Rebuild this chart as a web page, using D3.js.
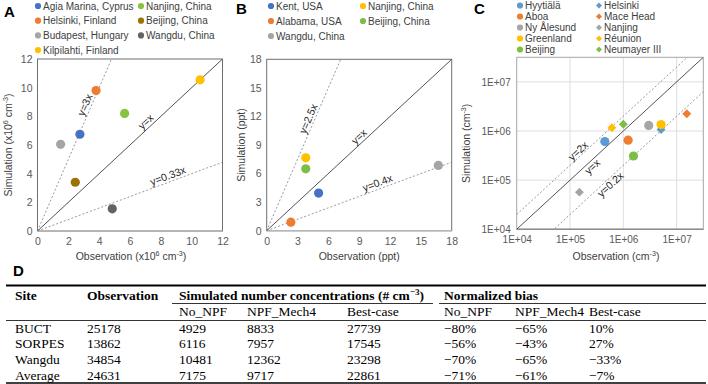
<!DOCTYPE html>
<html>
<head>
<meta charset="utf-8">
<script src="https://cdn.jsdelivr.net/npm/d3@7"></script>
<style>
    body { margin: 0; background: #fff; }
    svg { display: block; font-family: Arial, "Liberation Sans", sans-serif; }
    .tick text { fill: #595959; }
</style>
</head>
<body>
<svg id="chart" width="708" height="384"></svg>
<script>
"use strict"

// ---- panel A: particle number (x10^6 cm-3) ----
const sitesA = ["Agia Marina, Cyprus", "Nanjing, China", "Helsinki, Finland", "Beijing, China",
    "Budapest, Hungary", "Wangdu, China", "Kilpilahti, Finland"];
const obsA = [2.75, 5.65, 3.8, 2.45, 1.5, 4.85, 10.55];
const simA = [6.75, 8.2, 9.8, 3.4, 6.05, 1.55, 10.55];
const colorsA = ["#4472c4", "#86c440", "#ed7d31", "#9a7300", "#a5a5a5", "#636363", "#ffc000"];
const ticksA = [0, 2, 4, 6, 8, 10, 12];
const refSlopesA = [2.5, 1, 0.4];
const refLabelsA = ["y=3x", "y=x", "y=0.33x"];
const refLabelAtA = [3.45, 7.3, 8.6];

// ---- panel B: ppt ----
const sitesB = ["Kent, USA", "Nanjing, China", "Alabama, USA", "Beijing, China", "Wangdu, China"];
const obsB = [5.05, 3.8, 2.35, 3.8, 16.7];
const simB = [3.95, 7.65, 0.9, 6.5, 6.85];
const colorsB = ["#4472c4", "#ffc000", "#ed7d31", "#7dbf46", "#a5a5a5"];
const ticksB = [0, 3, 6, 9, 12, 15, 18];
const refSlopesB = [2.5, 1, 0.4];
const refLabelsB = ["y=2.5x", "y=x", "y=0.4x"];
const refLabelAtB = [4.6, 9.4, 11];

// ---- panel C: cm-3, log axes ----
const sitesC = ["Hyytiälä", "Helsinki", "Aboa", "Mace Head", "Ny Ålesund", "Nanjing",
    "Greenland", "Réunion", "Beijing", "Neumayer III"];
const shapesC = ["circle", "diamond", "circle", "diamond", "circle", "diamond",
    "circle", "diamond", "circle", "diamond"];
const obsC = [4.5e5, 5.1e6, 1.23e6, 1.55e7, 3.0e6, 1.5e5, 5.1e6, 6.1e5, 1.55e6, 1.0e6];
const simC = [6.1e5, 1.07e6, 6.5e5, 2.25e6, 1.3e6, 5.7e4, 1.35e6, 1.17e6, 3.1e5, 1.37e6];
const colorsC = ["#5b9bd5", "#5b9bd5", "#ed7d31", "#ed7d31", "#a5a5a5", "#a5a5a5",
    "#ffc000", "#ffc000", "#7dbf46", "#7dbf46"];
const ticksC = [1e4, 1e5, 1e6, 1e7];
const refSlopesC = [2, 1, 0.2];
const refLabelsC = ["y=2x", "y=x", "y=0.2x"];
const refLabelAtC = [1.65e5, 2.25e5, 4.9e5];

// ---- panel D: table ----
const tableSites = ["BUCT", "SORPES", "Wangdu", "Average"];
const tableObs = [25178, 13862, 34854, 24631];
const simNoNPF = [4929, 6116, 10481, 7175];
const simMech4 = [8833, 7957, 12362, 9717];
const simBest = [27739, 17545, 23298, 22861];
const biasNoNPF = ["−80%", "−56%", "−70%", "−71%"];
const biasMech4 = ["−65%", "−43%", "−65%", "−61%"];
const biasBest = ["10%", "27%", "−33%", "−7%"];
const subHeaders = ["No_NPF", "NPF_Mech4", "Best-case", "No_NPF", "NPF_Mech4", "Best-case"];

let svg = d3.select("#chart");

/* text with superscript parts: parts = [[text, isSup], ...] */
function richText(sel, parts, size) {
    let shift = 0;
    for (let p of parts) {
        let t = sel.append("tspan").text(p[0]);
        let want = p[1] ? -size * 0.38 : 0;
        t.attr("dy", want - shift);
        if (p[1]) t.style("font-size", (size * 0.68) + "px");
        shift = want;
    }
    return sel;
}

function drawMarker(g, shape, x, y, r, color) {
    if (shape === "diamond") {
        g.append("path")
            .attr("d", d3.symbol().type(d3.symbolDiamond2).size(r * r * 2.4)())
            .attr("transform", "translate(" + x + "," + y + ")")
            .style("fill", color);
    } else {
        g.append("circle")
            .attr("cx", x).attr("cy", y).attr("r", r)
            .style("fill", color);
    }
}

function drawPanel(cfg) {
    let g = svg.append("g");
    let x = cfg.x, y = cfg.y;
    let clipId = "clip" + cfg.letter;

    g.append("defs").append("clipPath").attr("id", clipId)
        .append("rect")
        .attr("x", x.range()[0]).attr("y", y.range()[1])
        .attr("width", x.range()[1] - x.range()[0])
        .attr("height", y.range()[0] - y.range()[1]);

    // gridlines (log panel only)
    if (cfg.grid) {
        g.selectAll(".gx").data(cfg.ticks.slice(1)).enter().append("line")
            .attr("x1", d => x(d)).attr("x2", d => x(d))
            .attr("y1", y.range()[0]).attr("y2", y.range()[1])
            .style("stroke", "#dedede");
        g.selectAll(".gy").data(cfg.ticks.slice(1)).enter().append("line")
            .attr("y1", d => y(d)).attr("y2", d => y(d))
            .attr("x1", x.range()[0]).attr("x2", x.range()[1])
            .style("stroke", "#dedede");
    }

    // frame
    g.append("rect")
        .attr("x", x.range()[0]).attr("y", y.range()[1])
        .attr("width", x.range()[1] - x.range()[0])
        .attr("height", y.range()[0] - y.range()[1])
        .style("fill", "none")
        .style("stroke", cfg.grid ? "#a6a6a6" : "#6f6f6f")
        .style("stroke-width", 1);
    g.append("line")
        .attr("x1", x.range()[0]).attr("x2", x.range()[1])
        .attr("y1", y.range()[0]).attr("y2", y.range()[0])
        .style("stroke", cfg.grid ? "#8c8c8c" : "#b5b5b5")
        .style("stroke-width", 1.5);

    // reference lines
    let dom = x.domain();
    let lines = g.append("g").attr("clip-path", "url(#" + clipId + ")");
    cfg.slopes.forEach(function(s, i) {
        lines.append("line")
            .attr("x1", x(dom[0])).attr("y1", y(cfg.log ? dom[0] * s : 0))
            .attr("x2", x(dom[1])).attr("y2", y(dom[1] * s))
            .style("stroke", s === 1 ? "#404040" : "#7f7f7f")
            .style("stroke-width", s === 1 ? 0.9 : 0.8)
            .style("stroke-dasharray", s === 1 ? null : "2,2");

        let lx = cfg.labelAt[i];
        let px = x(lx), py = y(lx * s);
        let p2x = x(lx * 1.2), p2y = y(lx * 1.2 * s);
        let angle = Math.atan2(p2y - py, p2x - px) * 180 / Math.PI;
        g.append("text")
            .attr("transform", "translate(" + px + "," + py + ") rotate(" + angle + ")")
            .attr("dy", cfg.labelDy[i])
            .style("text-anchor", "middle")
            .style("font-size", "10.5px")
            .style("fill", "#262626")
            .text(cfg.labels[i]);
    });

    // points
    let pts = g.append("g");
    cfg.obs.forEach(function(o, i) {
        drawMarker(pts, cfg.shapes ? cfg.shapes[i] : "circle", x(o), y(cfg.sim[i]), 4.6, cfg.colors[i]);
    });

    // axes
    let fmt = cfg.log ? (d => "1E+0" + Math.round(Math.log10(d))) : (d => d);
    g.append("g")
        .attr("transform", "translate(0," + y.range()[0] + ")")
        .call(d3.axisBottom(x).tickValues(cfg.ticks).tickFormat(fmt).tickSize(0).tickPadding(7))
        .call(a => a.select(".domain").remove())
        .selectAll("text").style("font-size", cfg.log ? "10px" : "10.5px").style("font-family", "Arial, 'Liberation Sans'");
    g.append("g")
        .attr("transform", "translate(" + x.range()[0] + ",0)")
        .call(d3.axisLeft(y).tickValues(cfg.ticks).tickFormat(fmt).tickSize(0).tickPadding(cfg.log ? 6 : 5))
        .call(a => a.select(".domain").remove())
        .selectAll("text").style("font-size", cfg.log ? "10px" : "10.5px").style("font-family", "Arial, 'Liberation Sans'");

    // axis titles
    let xt = g.append("text")
        .attr("x", (x.range()[0] + x.range()[1]) / 2 + cfg.xTitleShift)
        .attr("y", 260)
        .style("text-anchor", "middle")
        .style("font-size", "10.5px")
        .style("fill", "#404040");
    richText(xt, cfg.xTitle, 10.5);
    let yt = g.append("text")
        .attr("transform", "translate(" + cfg.yTitleX + "," + ((y.range()[0] + y.range()[1]) / 2) + ") rotate(-90)")
        .style("text-anchor", "middle")
        .style("font-size", "10.5px")
        .style("fill", "#404040");
    richText(yt, cfg.yTitle, 10.5);

    // legend, filled row by row in two columns
    let lg = g.append("g");
    cfg.sites.forEach(function(s, i) {
        let lx = cfg.legendX[i % 2];
        let ly = cfg.legendY + Math.floor(i / 2) * cfg.legendStep;
        drawMarker(lg, cfg.shapes ? cfg.shapes[i] : "circle", lx, ly, 3.1, cfg.colors[i]);
        lg.append("text")
            .attr("x", lx + 5).attr("y", ly)
            .attr("dy", "0.35em")
            .style("font-size", "10px")
            .style("fill", "#404040")
            .text(s);
    });

    // panel letter
    g.append("text")
        .attr("x", cfg.letterX).attr("y", cfg.letterY)
        .style("font-size", "15px")
        .style("font-weight", "bold")
        .text(cfg.letter);
}

drawPanel({
    letter: "A", letterX: 4, letterY: 16.5,
    x: d3.scaleLinear().domain([0, 12]).range([37.5, 222.5]),
    y: d3.scaleLinear().domain([0, 12]).range([231, 59]),
    ticks: ticksA, sites: sitesA, obs: obsA, sim: simA, colors: colorsA,
    slopes: refSlopesA, labels: refLabelsA, labelAt: refLabelAtA,
    labelDy: ["-0.25em", "-0.25em", "-0.25em"],
    xTitle: [["Observation (x10"], ["6", true], [" cm"], ["-3", true], [")"]], xTitleShift: 1,
    yTitle: [["Simulation (x10"], ["6", true], [" cm"], ["-3", true], [")"]], yTitleX: 12,
    legendX: [38, 141], legendY: 6, legendStep: 14.7
});

drawPanel({
    letter: "B", letterX: 236, letterY: 13.5,
    x: d3.scaleLinear().domain([0, 18]).range([266.7, 451.7]),
    y: d3.scaleLinear().domain([0, 18]).range([230.7, 59.3]),
    ticks: ticksB, sites: sitesB, obs: obsB, sim: simB, colors: colorsB,
    slopes: refSlopesB, labels: refLabelsB, labelAt: refLabelAtB,
    labelDy: ["-0.25em", "-0.25em", "-0.25em"],
    xTitle: [["Observation (ppt)"]], xTitleShift: 0,
    yTitle: [["Simulation (ppt)"]], yTitleX: 245,
    legendX: [271, 363], legendY: 6, legendStep: 15
});

drawPanel({
    letter: "C", letterX: 474, letterY: 13.5,
    log: true, grid: true,
    x: d3.scaleLog().domain([1e4, Math.pow(10, 7.5)]).range([516.7, 703.3]),
    y: d3.scaleLog().domain([1e4, Math.pow(10, 7.5)]).range([229.3, 57.3]),
    ticks: ticksC, sites: sitesC, shapes: shapesC, obs: obsC, sim: simC, colors: colorsC,
    slopes: refSlopesC, labels: refLabelsC, labelAt: refLabelAtC,
    labelDy: ["-0.15em", "0.85em", "0.85em"],
    xTitle: [["Observation (cm"], ["-3", true], [")"]], xTitleShift: 6,
    yTitle: [["Simulation (cm"], ["-3", true], [")"]], yTitleX: 470,
    legendX: [520, 599], legendY: 5.5, legendStep: 11
});

// ---- table D ----
function drawTable() {
    let g = svg.append("g").style("font-family", "'Liberation Serif', 'Times New Roman', serif");
    let colX = [15, 87, 179, 247, 347, 444, 515, 589];
    let fs = 13.5;

    g.append("text")
        .attr("x", 13).attr("y", 276)
        .style("font-family", "Arial, 'Liberation Sans'")
        .style("font-size", "15px").style("font-weight", "bold")
        .text("D");

    let rule = function(x1, x2, yy, w) {
        g.append("line")
            .attr("x1", x1).attr("x2", x2).attr("y1", yy).attr("y2", yy)
            .style("stroke", "#000").style("stroke-width", w);
    };
    rule(6, 706, 285.5, 1.8);
    rule(172, 433, 303.5, 0.8);
    rule(439, 706, 303.5, 0.8);
    rule(6, 706, 320.5, 0.8);
    rule(6, 706, 383, 1.6);

    let head = function(xx, parts) {
        let t = g.append("text").attr("x", xx).attr("y", 300)
            .style("font-size", fs + "px").style("font-weight", "bold");
        richText(t, parts, fs);
    };
    head(colX[0], [["Site"]]);
    head(colX[1], [["Observation"]]);
    head(colX[2], [["Simulated number concentrations (# cm"], ["−3", true], [")"]]);
    head(colX[5], [["Normalized bias"]]);

    subHeaders.forEach(function(s, i) {
        g.append("text").attr("x", colX[i + 2]).attr("y", 316)
            .style("font-size", fs + "px").text(s);
    });

    let columns = [tableSites, tableObs, simNoNPF, simMech4, simBest, biasNoNPF, biasMech4, biasBest];
    tableSites.forEach(function(site, r) {
        columns.forEach(function(col, c) {
            g.append("text")
                .attr("x", colX[c]).attr("y", 332.5 + r * 15.8)
                .style("font-size", fs + "px")
                .text(col[r]);
        });
    });
}

drawTable();
</script>
</body>
</html>
